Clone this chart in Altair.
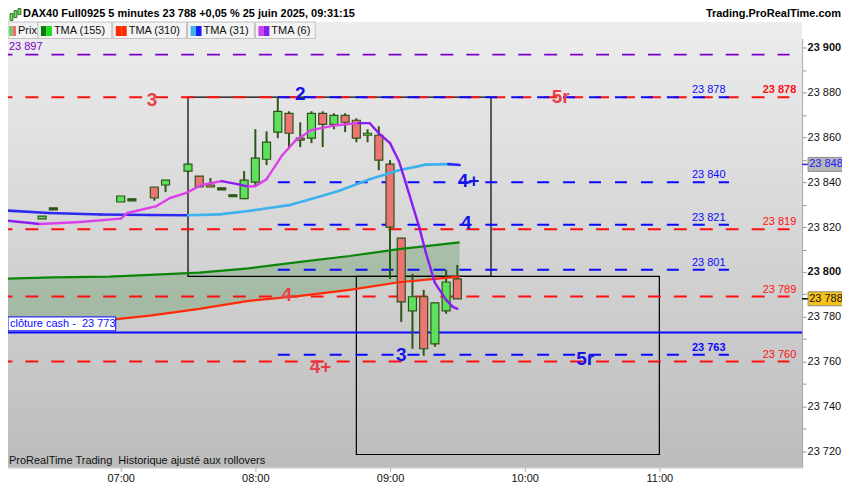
import altair as alt
import pandas as pd

# ------------------------------------------------------------------ data
candle_time = ["06:25", "06:30", "07:00", "07:05", "07:15", "07:20", "07:30", "07:35", "07:40", "07:45", "07:50", "07:55",
               "08:00", "08:05", "08:10", "08:15", "08:20", "08:25", "08:30", "08:35", "08:40", "08:45", "08:50", "08:55",
               "09:00", "09:05", "09:10", "09:15", "09:20", "09:25", "09:30"]
candle_open = [23823.7, 23828.1, 23831.2, 23832.2, 23837.9, 23838.8, 23845.0, 23842.8, 23838.8, 23837.1, 23834.0, 23832.7,
               23840.1, 23850.3, 23862.4, 23870.8, 23859.7, 23859.7, 23870.8, 23865.9, 23869.9, 23867.7, 23861.0, 23861.0,
               23848.1, 23815.1, 23782.6, 23788.9, 23767.9, 23782.6, 23796.9]
candle_high = [23824.9, 23828.1, 23833.9, 23832.2, 23837.9, 23841.0, 23848.1, 23842.8, 23841.9, 23837.1, 23834.0, 23845.0,
               23863.7, 23862.8, 23878.0, 23871.7, 23866.8, 23871.7, 23871.7, 23870.8, 23870.8, 23868.6, 23863.7, 23865.0,
               23849.9, 23815.1, 23799.1, 23792.0, 23786.2, 23800.9, 23803.1]
candle_low = [23823.7, 23828.1, 23831.2, 23832.2, 23831.8, 23835.6, 23844.1, 23837.9, 23837.9, 23837.1, 23834.0, 23832.5,
              23838.8, 23847.7, 23859.7, 23854.8, 23855.7, 23857.5, 23855.7, 23863.7, 23862.4, 23857.9, 23857.9, 23845.4,
              23796.9, 23777.7, 23765.7, 23762.6, 23766.6, 23781.3, 23788.0]
candle_close = [23824.9, 23828.1, 23833.9, 23832.2, 23833.0, 23841.0, 23848.1, 23837.9, 23837.9, 23837.1, 23834.0, 23841.0,
                23850.8, 23857.9, 23871.7, 23861.9, 23858.8, 23870.8, 23865.9, 23869.9, 23866.8, 23859.7, 23861.9, 23849.9,
                23820.0, 23786.6, 23788.9, 23765.7, 23786.2, 23795.5, 23788.0]

ma_time = ["06:06", "06:30", "06:55", "07:13", "07:35", "07:57", "08:20", "08:42", "09:04", "09:31"]
tma155 = [23796.9, 23797.6, 23797.9, 23798.7, 23799.7, 23801.6, 23804.5, 23807.1, 23810.2, 23813.2]
tma310 = [23777.4, 23778.0, 23778.6, 23780.5, 23783.5, 23787.1, 23789.3, 23792.0, 23795.4, 23797.9]

tma31_time = ["06:06", "06:28", "06:51", "07:13", "07:30", "07:44", "07:57", "08:06", "08:15", "08:28", "08:37",
              "08:51", "09:04", "09:16", "09:26", "09:31"]
tma31 = [23827.6, 23826.3, 23825.6, 23825.4, 23825.3, 23825.7, 23827.2, 23828.5, 23829.8, 23833.4, 23836.1,
         23841.4, 23845.4, 23847.9, 23848.1, 23847.7]

tma6_time = ["06:06", "06:24", "06:42", "07:00", "07:03", "07:16", "07:22", "07:29", "07:36", "07:45", "07:52", "07:57",
             "08:00", "08:05", "08:12", "08:18", "08:25", "08:36", "08:46", "08:51", "08:55", "09:00", "09:04", "09:08",
             "09:13", "09:16", "09:20", "09:25", "09:28", "09:30"]
tma6 = [23823.2, 23821.4, 23822.3, 23823.8, 23826.3, 23829.4, 23833.0, 23835.2, 23838.8, 23840.5, 23839.2, 23838.1,
        23838.3, 23841.4, 23852.1, 23858.8, 23863.3, 23865.5, 23866.4, 23866.4, 23861.9, 23857.5, 23849.4, 23836.5,
        23820.0, 23808.5, 23795.1, 23787.5, 23784.4, 23783.5]

red_levels = [23878, 23819, 23789, 23760]
red_labels = ["23 878", "23 819", "23 789", "23 760"]
red_bold = [True, False, False, False]
blue_levels = [23878, 23840, 23821, 23801, 23763]
blue_labels = ["23 878", "23 840", "23 821", "23 801", "23 763"]
blue_bold = [False, False, False, False, True]
purple_level = 23897
purple_label = "23 897"
cash_level = 23773
cash_label = "clôture cash -\u00a0 23 773"

box_start = ["07:30", "08:45"]
box_end = ["09:45", "11:00"]
box_low = [23798.0, 23718.5]
box_high = [23878.0, 23798.0]

ann_text = ["3", "2", "5r", "4+", "4", "4", "3", "5r", "4+"]
ann_time = ["07:14", "08:20", "10:16", "09:35", "09:34", "08:14", "09:05", "10:27", "08:29"]
ann_price = [23876.6, 23879.3, 23878.0, 23840.5, 23821.8, 23789.8, 23763.0, 23761.2, 23757.7]
ann_side = ["r", "b", "r", "b", "b", "r", "b", "b", "r"]

last_price = 23788
last_label = "23 788"
tma31_last = 23848
tma31_label = "23 848"

y_ticks = list(range(23720, 23901, 10))
x_ticks = ["07:00", "08:00", "09:00", "10:00", "11:00"]

title_text = "DAX40 Full0925 5 minutes 23 788 +0,05 % 25 juin 2025, 09:31:15"
site_text = "Trading.ProRealTime.com"
footer_text = "ProRealTime Trading\u00a0 Historique ajusté aux rollovers"
legend_names = ["Prix", "TMA (155)", "TMA (310)", "TMA (31)", "TMA (6)"]

# ------------------------------------------------------------------ helpers / styles
FONT = "Liberation Sans"
W, H = 796, 430
X_DOMAIN = [369.8, 723.6]
Y_DOMAIN = [23712.7, 23904.2]
PX_PER_PT = H / (Y_DOMAIN[1] - Y_DOMAIN[0])

RED = "#ff1010"
BLUE = "#0a0aff"
PURPLE = "#7a00cc"
ANN_RED = "#e8404a"
ANN_BLUE = "#1414e6"
WICK = "#2c5516"
UP = "#5ee05e"
DOWN = "#ee7474"


def tmin(s):
    h, m = s.split(":")
    return int(h) * 60 + int(m)


xs = alt.Scale(domain=X_DOMAIN, nice=False, zero=False, padding=0)
ys = alt.Scale(domain=Y_DOMAIN, nice=False, zero=False, padding=0)

x_axis = alt.Axis(values=[tmin(s) for s in x_ticks], title=None, grid=False, orient="bottom",
                  labelExpr="(datum.value < 600 ? '0' : '') + floor(datum.value / 60) + ':00'",
                  labelFont=FONT, labelFontSize=11, labelColor="#111111", tickSize=4, tickColor="#b0b0b0",
                  domainColor="#c0c0c0", labelPadding=1)
y_axis = alt.Axis(orient="right", values=y_ticks, title=None, grid=False,
                  labelExpr="datum.value % 20 == 0 ? replace(format(datum.value, ','), ',', ' ') : ''",
                  labelFont=FONT, labelFontSize=11, labelColor="#111111",
                  labelFontWeight={"condition": {"test": "datum.value % 100 == 0", "value": "bold"}, "value": "normal"},
                  tickSize=4, tickColor="#999999", domainColor="#a0a0a0", labelPadding=1)


def X(f):
    return alt.X(f, type="quantitative", scale=xs, axis=x_axis, title=None)


def Y(f):
    return alt.Y(f, type="quantitative", scale=ys, axis=y_axis, title=None)


one = pd.DataFrame({"k": [0]})


def px_rect(x1, x2, y1, y2, **kw):
    return alt.Chart(one).mark_rect(**kw).encode(
        x=alt.value(x1), x2=alt.value(x2), y=alt.value(y1), y2=alt.value(y2))


def px_text(txt, x, y, **kw):
    base = dict(font=FONT, fontSize=11, color="#000000", align="left", baseline="alphabetic")
    base.update(kw)
    return alt.Chart(one).mark_text(text=txt, **base).encode(x=alt.value(x), y=alt.value(y))


# ------------------------------------------------------------------ background
bg = px_rect(0, W, -17, H, fill=alt.Gradient(
    gradient="linear", x1=0, x2=0, y1=0, y2=1,
    stops=[alt.GradientStop(color="#ededed", offset=0), alt.GradientStop(color="#bcbcbc", offset=1)]))

# ------------------------------------------------------------------ candles
cd = pd.DataFrame({"time": candle_time, "open": candle_open, "high": candle_high,
                   "low": candle_low, "close": candle_close})
cd["t"] = cd["time"].map(tmin)
doji = (cd["close"] - cd["open"]).abs() < 0.3
cd["fill"] = [WICK if d else (UP if c > o else DOWN) for d, o, c in zip(doji, cd["open"], cd["close"])]
cd["btop"] = cd[["open", "close"]].max(axis=1)
cd["bbot"] = cd[["open", "close"]].min(axis=1)
cd.loc[doji, "btop"] = cd.loc[doji, "close"] + 0.45
cd.loc[doji, "bbot"] = cd.loc[doji, "close"] - 0.45

wicks = alt.Chart(cd).mark_rule(color=WICK, strokeWidth=2).encode(
    x=X("t"), y=Y("low"), y2="high:Q")
bodies = alt.Chart(cd).mark_bar(size=8, stroke=WICK, strokeWidth=1.2).encode(
    x=X("t"), y=Y("bbot"), y2="btop:Q", fill=alt.Fill("fill:N", scale=None))

# ------------------------------------------------------------------ moving averages
ma = pd.DataFrame({"t": [tmin(s) for s in ma_time], "g": tma155, "r": tma310})
ma_area = alt.Chart(ma).mark_area(color="#3a8a3a", opacity=0.28, clip=True).encode(
    x=X("t"), y=Y("g"), y2="r:Q")
ma_g = alt.Chart(ma).mark_line(color="#0b860b", strokeWidth=2.2, clip=True).encode(x=X("t"), y=Y("g"))
ma_r = alt.Chart(ma).mark_line(color="#ff2a0a", strokeWidth=2.2, clip=True).encode(x=X("t"), y=Y("r"))


def seg_df(times, vals, up_col, down_col):
    rows = []
    for i in range(len(vals) - 1):
        c = up_col if vals[i + 1] > vals[i] else down_col
        rows.append(dict(t=tmin(times[i]), v=vals[i], seg=i, c=c))
        rows.append(dict(t=tmin(times[i + 1]), v=vals[i + 1], seg=i, c=c))
    return pd.DataFrame(rows)


ma31 = alt.Chart(seg_df(tma31_time, tma31, "#3eb2ee", "#2a2af2")).mark_line(
    strokeWidth=2.6, strokeCap="round", clip=True).encode(
    x=X("t"), y=Y("v"), detail="seg:N", color=alt.Color("c:N", scale=None))
ma6 = alt.Chart(seg_df(tma6_time, tma6, "#dc40ea", "#8a1cf2")).mark_line(
    strokeWidth=2.4, strokeCap="round", clip=True).encode(
    x=X("t"), y=Y("v"), detail="seg:N", color=alt.Color("c:N", scale=None))

# ------------------------------------------------------------------ levels
full_start, full_end = tmin("06:06"), tmin("11:58")
blue_start, blue_end = tmin("08:10"), tmin("11:31")

red_df = pd.DataFrame({"p": red_levels, "a": full_start, "b": full_end})
blue_df = pd.DataFrame({"p": blue_levels, "a": blue_start, "b": blue_end})
purple_df = pd.DataFrame({"p": [purple_level], "a": full_start, "b": full_end})
cash_df = pd.DataFrame({"p": [cash_level], "a": full_start, "b": X_DOMAIN[1]})

red_rules = alt.Chart(red_df).mark_rule(color=RED, strokeWidth=2, strokeDash=[13, 13], clip=True).encode(
    x=X("a"), x2="b:Q", y=Y("p"))
blue_rules = alt.Chart(blue_df).mark_rule(color=BLUE, strokeWidth=2, strokeDash=[12, 14], clip=True).encode(
    x=X("a"), x2="b:Q", y=Y("p"))
purple_rule = alt.Chart(purple_df).mark_rule(color=PURPLE, strokeWidth=2, strokeDash=[13, 13], clip=True).encode(
    x=X("a"), x2="b:Q", y=Y("p"))
cash_rule = alt.Chart(cash_df).mark_rule(color=BLUE, strokeWidth=2, clip=True).encode(
    x=X("a"), x2="b:Q", y=Y("p"))

# boxes
bx = pd.DataFrame({"a": [tmin(s) for s in box_start], "b": [tmin(s) for s in box_end],
                   "lo": box_low, "hi": box_high})
boxes = alt.Chart(bx).mark_rect(fillOpacity=0, stroke="#000000", strokeWidth=1.2).encode(
    x=X("a"), x2="b:Q", y=Y("lo"), y2="hi:Q")

# level labels
lab_red = pd.DataFrame({"p": red_levels, "s": red_labels, "w": ["bold" if b else "normal" for b in red_bold],
                        "t": tmin("12:01")})
lab_blue = pd.DataFrame({"p": blue_levels, "s": blue_labels, "w": ["bold" if b else "normal" for b in blue_bold],
                         "t": tmin("11:22")})
red_text = []
for w in ["bold", "normal"]:
    red_text.append(alt.Chart(lab_red[lab_red["w"] == w]).mark_text(
        font=FONT, fontSize=11, fontWeight=w, color=RED, align="right", dy=-4, baseline="alphabetic").encode(
        x=X("t"), y=Y("p"), text="s:N"))
blue_text = []
for w in ["bold", "normal"]:
    blue_text.append(alt.Chart(lab_blue[lab_blue["w"] == w]).mark_text(
        font=FONT, fontSize=11, fontWeight=w, color=BLUE, align="center", dy=-4, baseline="alphabetic").encode(
        x=X("t"), y=Y("p"), text="s:N"))

purple_text = alt.Chart(pd.DataFrame({"p": [purple_level], "s": [purple_label]})).mark_text(
    font=FONT, fontSize=11, color=PURPLE, align="left", dy=-5, baseline="alphabetic").encode(
    x=alt.value(1), y=Y("p"), text="s:N")

# closing cash label box
cash_box_df = pd.DataFrame({"lo": [cash_level + 0.7], "hi": [cash_level + 6.9], "mid": [cash_level + 3.8],
                            "s": [cash_label]})
cash_box = alt.Chart(cash_box_df).mark_rect(fill="#ffffff", stroke=BLUE, strokeWidth=1).encode(
    x=alt.value(0), x2=alt.value(108), y=Y("lo"), y2="hi:Q")
cash_text = alt.Chart(cash_box_df).mark_text(font=FONT, fontSize=11, color=BLUE, align="left",
                                             baseline="middle").encode(
    x=alt.value(2), y=Y("mid"), text="s:N")

# annotations
ann = pd.DataFrame({"s": ann_text, "t": [tmin(s) for s in ann_time], "p": ann_price,
                    "c": [ANN_RED if a == "r" else ANN_BLUE for a in ann_side]})
ann_layer = alt.Chart(ann).mark_text(font=FONT, fontSize=19, fontWeight="bold", align="center",
                                     baseline="middle").encode(
    x=X("t"), y=Y("p"), text="s:N", color=alt.Color("c:N", scale=None))

# price boxes on the axis
half = 7 / PX_PER_PT
pb = pd.DataFrame({"p": [tma31_last, last_price], "s": [tma31_label, last_label],
                   "fill": ["#b6b6b6", "#f6c21a"], "tc": ["#1a1aff", "#111111"], "tick": ["#2020ff", "#000000"]})
pb["lo"] = pb["p"] - half
pb["hi"] = pb["p"] + half
price_boxes = alt.Chart(pb).mark_rect(stroke="#8c8c8c", strokeWidth=1).encode(
    x=alt.value(802), x2=alt.value(838), y=Y("lo"), y2="hi:Q", fill=alt.Fill("fill:N", scale=None))
price_ticks = alt.Chart(pb).mark_rule(strokeWidth=1.5).encode(
    x=alt.value(796), x2=alt.value(802), y=Y("p"), color=alt.Color("tick:N", scale=None))
price_text = alt.Chart(pb).mark_text(font=FONT, fontSize=11, align="center", baseline="middle").encode(
    x=alt.value(820), y=Y("p"), text="s:N", color=alt.Color("tc:N", scale=None))

# ------------------------------------------------------------------ header / legend / footer
header = [
    px_rect(0, 836, -30, -17, fill="#ffffff"),
    px_rect(2, 5, -25, -18, fill="#5ee05e", stroke=WICK, strokeWidth=0.8),
    px_rect(6, 9, -28, -21, fill="#5ee05e", stroke=WICK, strokeWidth=0.8),
    px_rect(10, 13, -30, -24, fill="#5ee05e", stroke=WICK, strokeWidth=0.8),
    px_text(title_text, 15, -21.5, fontWeight="bold"),
    px_text(site_text, 835, -21.5, fontWeight="bold", align="right"),
]

legend_boxes = [(0, 30), (30, 104), (105, 179), (180, 247), (248, 308)]
legend_sw = [("#5cd65c", "#e87070"), ("#0a7a0a", "#18e018"), ("#ff2a00", "#ff2a00"),
             ("#3eb2ee", "#1a1aff"), ("#d040f0", "#8020f0")]
legend_rects = []
legend_texts = []
for (a, b), (c1, c2), name in zip(legend_boxes, legend_sw, legend_names):
    legend_rects.append(px_rect(a, b, -16.5, 0, fill="#f3f3f3", stroke="#c2c2c2", strokeWidth=1))
    sx = a + 1 if a == 0 else a + 3
    sw = 7 if a == 0 else 11
    legend_rects.append(px_rect(sx, sx + sw / 2, -12.5, -2.5, fill=c1))
    legend_rects.append(px_rect(sx + sw / 2, sx + sw, -12.5, -2.5, fill=c2))
    legend_texts.append(px_text(name, sx + sw + 2, -4.3, color="#111111"))

footer = px_text(footer_text, 1, H - 3.5, color="#111111")

# ------------------------------------------------------------------ compose
layers = [bg] + header + legend_rects + legend_texts + [
    ma_area, boxes, purple_rule, red_rules, blue_rules, cash_rule,
    wicks, bodies, ma_g, ma_r, ma31, ma6,
] + red_text + blue_text + [purple_text, cash_box, cash_text, ann_layer,
                            price_ticks, price_boxes, price_text, footer]

chart = alt.layer(*layers).properties(
    width=W, height=H,
    padding={"left": 0, "top": 30, "right": 40, "bottom": 16},
    autosize=alt.AutoSizeParams(type="none"),
    background="#ffffff",
).configure_view(stroke=None)

chart.save("out.html", embed_options={"renderer": "svg", "actions": False})
